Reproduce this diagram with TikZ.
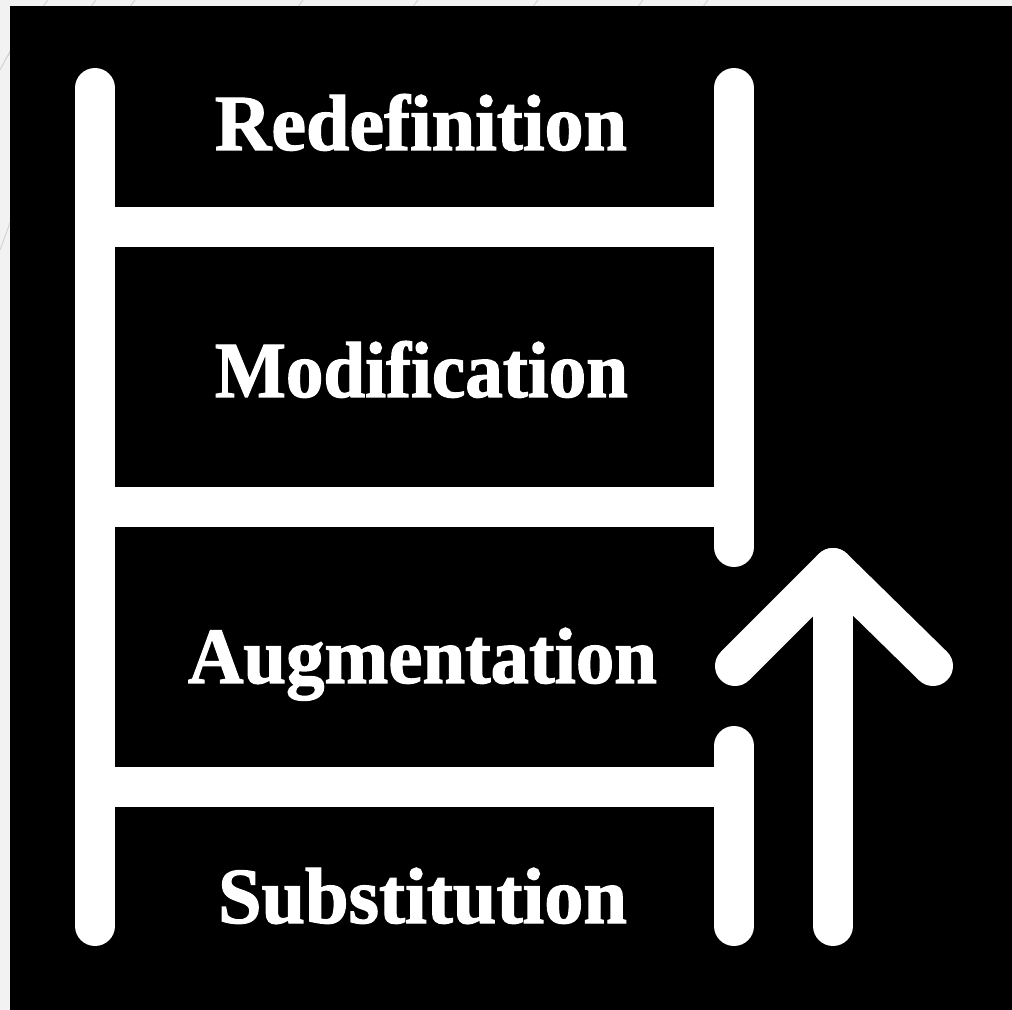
\documentclass[tikz,border=0pt]{standalone}
\usepackage{fontspec}
\setmainfont{Liberation Serif}
\newfontfamily\heavyserif[BoldFont={Liberation Serif Bold}, BoldFeatures={FakeBold=1.6}]{Liberation Serif}
\usepackage{graphicx}
\tikzset{
  rail/.style={draw=white, line width=0.8cm, line cap=round},
  rung/.style={draw=white, line width=0.8cm, line cap=butt},
  label/.style={text=white, inner sep=0pt, anchor=base, font=\heavyserif\fontsize{45.2pt}{50pt}\selectfont\bfseries},
  faint/.style={draw=black!18, line width=0.5pt}
}
\newcommand{\fitw}[2]{\resizebox{#1}{\height}{#2}}
\begin{document}
\begin{tikzpicture}[x=0.02cm, y=-0.02cm]
\useasboundingbox (0,0) rectangle (1012,1010);
\fill[black!5] (0,0) rectangle (1012,1010);
% faint background lines in the margin
\begin{scope}
\clip (0,0) rectangle (1012,6) (0,0) rectangle (10,1010);
\foreach \x in {45,93,132,300,415,535,640,705} \draw[faint] (\x-40,60) -- (\x+10,-10);
\draw[faint] (0,250) -- (14,212);
\draw[faint] (0,70) -- (14,44);
\end{scope}
\fill[black] (10,6) rectangle (1012,1010);
% coordinates
\coordinate (LT) at (95,88);
\coordinate (LB) at (95,926);
\coordinate (RT) at (734,88);
\coordinate (RM) at (734,547);
\coordinate (RN) at (734,746);
\coordinate (RB) at (734,926);
\coordinate (R1a) at (95,227); \coordinate (R1b) at (734,227);
\coordinate (R2a) at (95,507); \coordinate (R2b) at (734,507);
\coordinate (R3a) at (95,787); \coordinate (R3b) at (734,787);
\coordinate (AL) at (735,666);
\coordinate (AT) at (833,568);
\coordinate (AR) at (933,666);
\coordinate (AB) at (833,926);
% ladder
\draw[rung] (R1a) -- (R1b);
\draw[rung] (R2a) -- (R2b);
\draw[rung] (R3a) -- (R3b);
\draw[rail] (LT) -- (LB);
\draw[rail] (RT) -- (RM);
\draw[rail] (RN) -- (RB);
% arrow
\draw[rail, line join=round] (AL) -- (AT) -- (AR);
\draw[rail] (AT) -- (AB);
% labels
\node[label] (t1) at (421,150) {\fitw{8.24cm}{Redefinition}};
\node[label] (t2) at (421.5,397) {\fitw{8.26cm}{Modification}};
\node[label] (t3) at (422.5,683) {\fitw{9.38cm}{Augmentation}};
\node[label] (t4) at (422.5,923) {\fitw{8.18cm}{Substitution}};
\end{tikzpicture}
\end{document}
